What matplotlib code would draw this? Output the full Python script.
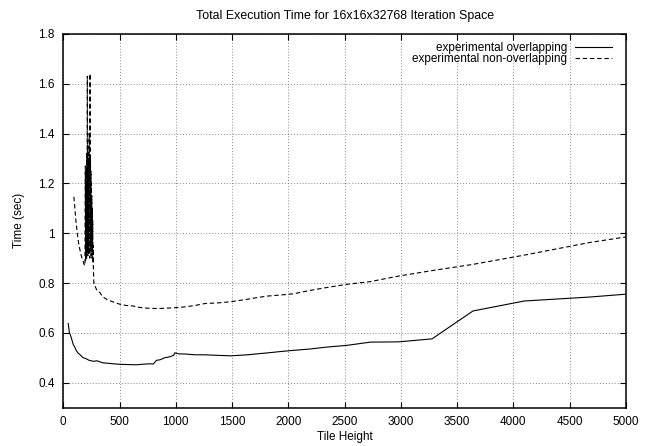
import numpy as np
import matplotlib.pyplot as plt

plt.rcParams['font.family'] = ['Liberation Sans', 'DejaVu Sans']

# experimental overlapping (solid)
ovl_x = [44, 55, 65, 75, 89, 100, 115, 130, 150, 178, 200, 230, 266, 300, 350, 400,
         444, 500, 563, 650, 700, 770, 800, 829, 860, 900, 947, 980, 992, 1024, 1092,
         1170, 1260, 1365, 1489, 1638, 1725, 1820, 1928, 2048, 2185, 2341, 2521, 2731,
         2979, 3277, 3641, 4096, 4681, 5461]
ovl_y = [0.638, 0.600, 0.590, 0.575, 0.553, 0.545, 0.530, 0.520, 0.512, 0.500, 0.497,
         0.490, 0.486, 0.488, 0.480, 0.478, 0.476, 0.474, 0.473, 0.472, 0.474, 0.476,
         0.475, 0.490, 0.492, 0.500, 0.504, 0.510, 0.520, 0.516, 0.515, 0.512, 0.512,
         0.510, 0.508, 0.512, 0.516, 0.520, 0.525, 0.530, 0.535, 0.543, 0.550, 0.563,
         0.564, 0.576, 0.688, 0.728, 0.744, 0.772]

# experimental non-overlapping (dashed)
non_x = [95, 100, 110, 120, 130, 140, 150, 160, 175, 185, 193,
         196, 199, 202, 204, 206, 208, 210, 212, 214, 216, 218, 220, 222, 224, 226,
         228, 230, 232, 234, 236, 238, 240, 242, 244, 246, 248, 250, 252, 254, 256,
         258, 260, 262, 264, 266, 268, 270, 272,
         275, 285, 300, 326, 350, 385, 414, 460, 503, 560, 620, 681, 750, 800, 859,
         900, 950, 1024, 1092, 1170, 1260, 1365, 1489, 1638, 1725, 1820, 1928, 2048,
         2185, 2341, 2521, 2731, 2979, 3277, 3641, 4096, 4681, 5461]
non_y = [1.146, 1.120, 1.060, 1.020, 0.980, 0.950, 0.930, 0.910, 0.890, 0.875, 0.870,
         1.270, 0.890, 1.180, 0.920, 1.250, 0.900, 1.320, 0.930, 1.630, 0.950, 1.350,
         0.910, 1.280, 0.940, 1.300, 0.920, 1.400, 0.960, 1.220, 0.900, 1.640, 0.930,
         1.300, 0.950, 1.250, 0.910, 1.200, 0.940, 1.150, 0.900, 1.100, 0.930, 1.050,
         0.880, 0.950, 0.860, 0.820, 0.800,
         0.800, 0.785, 0.770, 0.762, 0.745, 0.735, 0.729, 0.722, 0.715, 0.710, 0.708,
         0.702, 0.699, 0.698, 0.698, 0.699, 0.700, 0.702, 0.705, 0.710, 0.718, 0.720,
         0.725, 0.735, 0.742, 0.748, 0.752, 0.757, 0.770, 0.782, 0.795, 0.806, 0.828,
         0.850, 0.875, 0.912, 0.963, 1.017]

xticks = [0, 500, 1000, 1500, 2000, 2500, 3000, 3500, 4000, 4500, 5000]
yticks = [0.4, 0.6, 0.8, 1.0, 1.2, 1.4, 1.6, 1.8]
ytick_labels = ['0.4', '0.6', '0.8', '1', '1.2', '1.4', '1.6', '1.8']

fig = plt.figure(figsize=(6.52, 4.46), dpi=100)
ax = fig.add_axes([0.097, 0.086, 0.863, 0.838])

ax.plot(ovl_x, ovl_y, color='black', lw=0.8, label='experimental overlapping')
ax.plot(non_x, non_y, color='black', lw=0.8, dashes=(4, 2.5),
        label='experimental non-overlapping')

ax.set_xlim(0, 5000)
ax.set_ylim(0.3, 1.8)
ax.set_xticks(xticks)
ax.set_yticks(yticks)
ax.set_yticklabels(ytick_labels)
ax.tick_params(direction='in', top=True, right=True, length=4, labelsize=8.5, pad=6)
ax.grid(True, color='#888888', linestyle=(0, (1, 2)), lw=0.7)
for s in ax.spines.values():
    s.set_linewidth(1.1)

ax.set_title('Total Execution Time for 16x16x32768 Iteration Space', fontsize=8.9, pad=10.5)
ax.set_xlabel('Tile Height', fontsize=8.5, labelpad=2)
ax.set_ylabel('Time (sec)', fontsize=8.5, labelpad=10)

leg = ax.legend(loc='upper right', bbox_to_anchor=(0.975, 0.9775), frameon=False,
                markerfirst=False, fontsize=8.5, handlelength=3.1, labelspacing=-0.12,
                borderaxespad=0, borderpad=0, handletextpad=0.7)
for t in leg.get_texts():
    t.set_ha('right')

fig.savefig('out.png', dpi=100)
